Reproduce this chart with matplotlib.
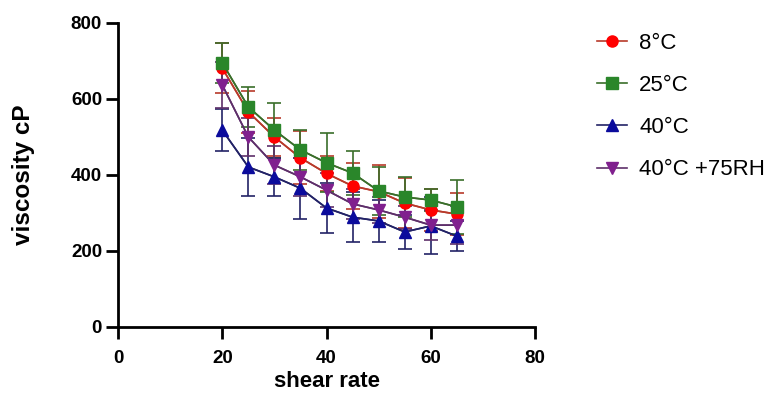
import matplotlib
matplotlib.use("Agg")
import matplotlib.pyplot as plt

plt.rcParams['font.family'] = ['Liberation Sans', 'DejaVu Sans']

# taux de cisaillement
shear = [20, 25, 30, 35, 40, 45, 50, 55, 60, 65]

# viscosité moyenne (cP) et écart-type par condition
visc_8 = [681, 566, 500, 445, 404, 371, 356, 326, 308, 297]
err_8 = [65, 55, 50, 70, 45, 60, 70, 65, 55, 55]

visc_25 = [695, 579, 518, 466, 432, 405, 358, 342, 334, 316]
err_25 = [52, 52, 72, 52, 78, 58, 62, 52, 30, 72]

visc_40 = [518, 421, 395, 365, 313, 289, 279, 250, 266, 239]
err_40 = [55, 75, 50, 80, 65, 65, 55, 45, 75, 40]

visc_40rh = [637, 500, 426, 395, 360, 324, 308, 289, 268, 268]
err_40rh = [60, 50, 50, 50, 45, 40, 35, 30, 40, 50]

labels = ['8°C', '25°C', '40°C', '40°C +75RH']

fig = plt.figure(figsize=(7.73, 4.03), dpi=100)
ax = fig.add_axes([0.1527, 0.1886, 0.5394, 0.7544])

series = [
    (visc_8, err_8, 'o', '#FF0000', '#B83A2A', labels[0]),
    (visc_25, err_25, 's', '#2A862A', '#3A6E2A', labels[1]),
    (visc_40, err_40, '^', '#0B0B9C', '#222266', labels[2]),
    (visc_40rh, err_40rh, 'v', '#80208E', '#5E2F6A', labels[3]),
]

for vals, errs, mk, mcol, lcol, lab in series:
    ax.errorbar(shear, vals, yerr=errs, fmt='-', color=lcol, lw=1.2,
                elinewidth=1.2, capsize=5, capthick=1.2, zorder=2)
    ax.plot(shear, vals, marker=mk, color=lcol, lw=1.2, markersize=8,
            markerfacecolor=mcol, markeredgecolor=mcol, label=lab, zorder=3)

ax.set_xlim(0, 80)
ax.set_ylim(0, 800)
ax.set_xticks([0, 20, 40, 60, 80])
ax.set_yticks([0, 200, 400, 600, 800])

ax.spines['top'].set_visible(False)
ax.spines['right'].set_visible(False)
ax.spines['left'].set_linewidth(2)
ax.spines['bottom'].set_linewidth(2)
ax.tick_params(width=2, length=8.5, labelsize=13.5)
ax.tick_params(axis='x', pad=8)
ax.tick_params(axis='y', pad=3)
for t in ax.get_xticklabels() + ax.get_yticklabels():
    t.set_fontweight('bold')

ax.set_xlabel('shear rate', fontsize=16, fontweight='bold', labelpad=3)
ax.set_ylabel('viscosity cP', fontsize=17.5, fontweight='bold', labelpad=26)

# légende à droite, placée en coordonnées figure
fig.legend(loc='upper left', bbox_to_anchor=(597 / 773, 1 - 33 / 403),
           frameon=False, fontsize=16, handlelength=1.35, labelspacing=0.95,
           handletextpad=0.55, borderpad=0, borderaxespad=0)

fig.savefig('out.png', dpi=100)
